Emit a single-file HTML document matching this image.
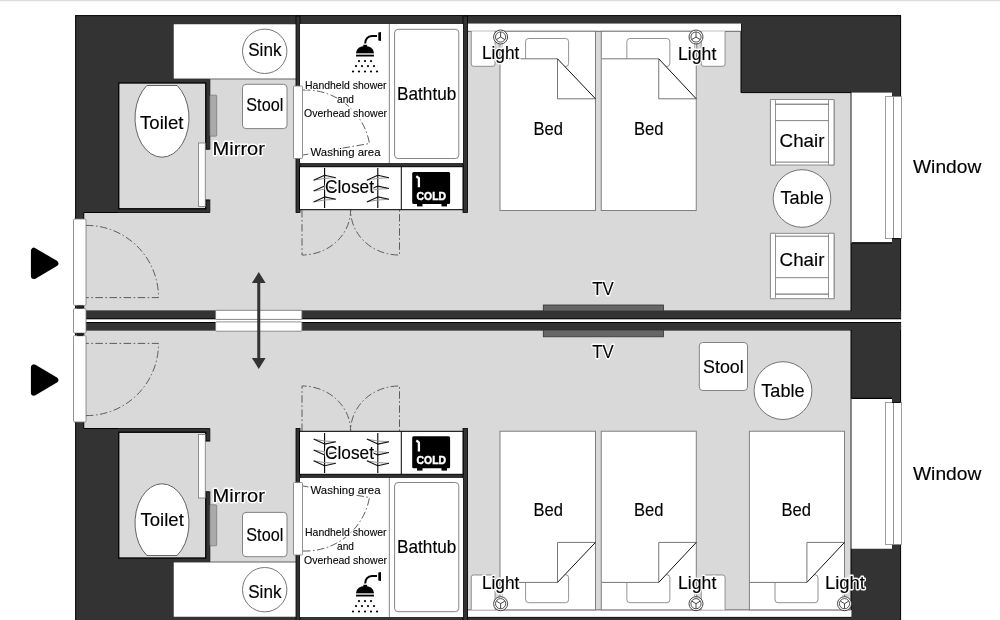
<!DOCTYPE html><html><head><meta charset="utf-8"><style>html,body{margin:0;padding:0;background:#fff;width:1000px;height:620px;overflow:hidden}svg{display:block;will-change:transform}</style></head><body>
<svg width="1000" height="620" viewBox="0 0 1000 620" font-family='"Liberation Sans", sans-serif'>
<rect x="0" y="0" width="1000" height="620" fill="#fff"/>
<rect x="0" y="0" width="1000" height="1.2" fill="#dcdcdc"/>
<rect x="75.6" y="15.6" width="825" height="303.9" fill="#333333" stroke="#000" stroke-width="1"/>
<rect x="75.6" y="322" width="825" height="310" fill="#333333" stroke="#000" stroke-width="1"/>
<path d="M83.75,212.5 H209.75 V78.75 H296 V24 H741 V92.6 H851 V311 H83.75 Z" fill="#d9d9d9" stroke="#000" stroke-width="1"/>
<rect x="851.5" y="92.6" width="40.5" height="150" fill="#fff"/>
<line x1="851" y1="93.2" x2="851" y2="242.3" stroke="#8a8a8a" stroke-width="1.2"/>
<line x1="852" y1="242.8" x2="892" y2="242.8" stroke="#000" stroke-width="1.2"/>
<rect x="885.6" y="96.6" width="8" height="142" fill="#fff" stroke="#888" stroke-width="0.8"/>
<rect x="893.6" y="96.6" width="8" height="142" fill="#fff" stroke="#888" stroke-width="0.8"/>
<line x1="892" y1="238.6" x2="900.6" y2="238.6" stroke="#000" stroke-width="1"/>
<rect x="467.5" y="23.5" width="273.5" height="7.8" fill="#fff"/>
<line x1="467.5" y1="31.3" x2="741" y2="31.3" stroke="#666" stroke-width="1"/>
<path d="M471.25,31.3 V64 Q471.25,66.3 473.55,66.3 H492.75 Q495.05,66.3 495.05,64 V31.3" fill="#fff" stroke="#777" stroke-width="0.8"/>
<path d="M701.25,31.3 V64 Q701.25,66.3 703.55,66.3 H722.75 Q725.05,66.3 725.05,64 V31.3" fill="#fff" stroke="#777" stroke-width="0.8"/>
<rect x="500" y="31.3" width="95.5" height="179.2" fill="#fff"/>
<rect x="525.6" y="38.5" width="43" height="28" rx="3" fill="#fff" stroke="#777" stroke-width="0.8"/>
<path d="M500,58.8 H557.5 L595.5,98.8 V210.5 H500 Z" fill="#fff"/>
<rect x="500" y="31.3" width="95.5" height="179.2" fill="none" stroke="#808080" stroke-width="1"/>
<path d="M500.5,58.8 H557.5 V98.8 H595.5" fill="none" stroke="#777" stroke-width="1"/>
<path d="M557.5,58.8 L595.5,98.8" fill="none" stroke="#111" stroke-width="1"/>
<rect x="601.25" y="31.3" width="95.0" height="179.2" fill="#fff"/>
<rect x="626.85" y="38.5" width="43" height="28" rx="3" fill="#fff" stroke="#777" stroke-width="0.8"/>
<path d="M601.25,58.8 H658.75 L696.25,98.8 V210.5 H601.25 Z" fill="#fff"/>
<rect x="601.25" y="31.3" width="95.0" height="179.2" fill="none" stroke="#808080" stroke-width="1"/>
<path d="M601.75,58.8 H658.75 V98.8 H696.25" fill="none" stroke="#777" stroke-width="1"/>
<path d="M658.75,58.8 L696.25,98.8" fill="none" stroke="#111" stroke-width="1"/>
<line x1="499.1" y1="44" x2="499.1" y2="48.5" stroke="#bbb" stroke-width="1" transform="scale(1,1)"/>
<line x1="502.1" y1="44" x2="502.1" y2="48.5" stroke="#bbb" stroke-width="1"/>
<circle cx="500.6" cy="37" r="7" fill="#fff" stroke="#333" stroke-width="0.9"/>
<circle cx="500.6" cy="37" r="5.1" fill="#fff" stroke="#333" stroke-width="0.85"/>
<path d="M500.6,32 V37 L496.40000000000003,39.6 M500.6,37 L504.8,39.6" fill="none" stroke="#333" stroke-width="0.9"/>
<line x1="694.5" y1="44" x2="694.5" y2="48.5" stroke="#bbb" stroke-width="1" transform="scale(1,1)"/>
<line x1="697.5" y1="44" x2="697.5" y2="48.5" stroke="#bbb" stroke-width="1"/>
<circle cx="696" cy="37" r="7" fill="#fff" stroke="#333" stroke-width="0.9"/>
<circle cx="696" cy="37" r="5.1" fill="#fff" stroke="#333" stroke-width="0.85"/>
<path d="M696,32 V37 L691.8,39.6 M696,37 L700.2,39.6" fill="none" stroke="#333" stroke-width="0.9"/>
<g transform="translate(770.4,99.6)">
<rect x="0" y="0" width="63.6" height="65.4" fill="#fff" stroke="#777" stroke-width="0.8"/>
<rect x="0" y="0" width="5.1" height="65.4" rx="1" fill="#fff" stroke="#777" stroke-width="0.8"/>
<rect x="58.1" y="0" width="5.5" height="65.4" rx="1" fill="#fff" stroke="#777" stroke-width="0.8"/>
<line x1="5.1" y1="4.6" x2="58.1" y2="4.6" stroke="#333" stroke-width="0.8"/>
<line x1="5.1" y1="21" x2="58.1" y2="21" stroke="#777" stroke-width="0.9"/>
<line x1="5.1" y1="62.5" x2="58.1" y2="62.5" stroke="#555" stroke-width="0.8"/>
</g>
<g transform="translate(770.4,233.3) translate(0,65.4) scale(1,-1)">
<rect x="0" y="0" width="63.6" height="65.4" fill="#fff" stroke="#777" stroke-width="0.8"/>
<rect x="0" y="0" width="5.1" height="65.4" rx="1" fill="#fff" stroke="#777" stroke-width="0.8"/>
<rect x="58.1" y="0" width="5.5" height="65.4" rx="1" fill="#fff" stroke="#777" stroke-width="0.8"/>
<line x1="5.1" y1="4.6" x2="58.1" y2="4.6" stroke="#333" stroke-width="0.8"/>
<line x1="5.1" y1="21" x2="58.1" y2="21" stroke="#777" stroke-width="0.9"/>
<line x1="5.1" y1="62.5" x2="58.1" y2="62.5" stroke="#555" stroke-width="0.8"/>
</g>
<circle cx="802" cy="198.5" r="28.8" fill="#fff" stroke="#666" stroke-width="0.9"/>
<path d="M83.75,428.5 H209.75 V562.25 H296 V617 H851 V330 H83.75 Z" fill="#d9d9d9" stroke="#000" stroke-width="1"/>
<rect x="851.5" y="398.75" width="40.5" height="150" fill="#fff"/>
<line x1="851" y1="399" x2="851" y2="548.4" stroke="#8a8a8a" stroke-width="1.2"/>
<line x1="852" y1="398.4" x2="892" y2="398.4" stroke="#000" stroke-width="1.2"/>
<rect x="885.6" y="402.5" width="8" height="142" fill="#fff" stroke="#888" stroke-width="0.8"/>
<rect x="893.6" y="402.5" width="8" height="142" fill="#fff" stroke="#888" stroke-width="0.8"/>
<line x1="892" y1="402.4" x2="900.6" y2="402.4" stroke="#000" stroke-width="1"/>
<rect x="467.5" y="610" width="384" height="6.8" fill="#fff"/>
<line x1="467.5" y1="609.9" x2="851" y2="609.9" stroke="#666" stroke-width="1"/>
<path d="M471.25,609.7 V577.3 Q471.25,575 473.55,575 H492.75 Q495.05,575 495.05,577.3 V609.7" fill="#fff" stroke="#777" stroke-width="0.8"/>
<path d="M701.25,609.7 V577.3 Q701.25,575 703.55,575 H722.75 Q725.05,575 725.05,577.3 V609.7" fill="#fff" stroke="#777" stroke-width="0.8"/>
<rect x="500" y="431.25" width="95.5" height="178.64999999999998" fill="#fff"/>
<rect x="525.6" y="574.6999999999999" width="43" height="28" rx="3" fill="#fff" stroke="#777" stroke-width="0.8"/>
<path d="M500,582.4 H557.5 L595.5,542.4 V431.25 H500 Z" fill="#fff"/>
<rect x="500" y="431.25" width="95.5" height="178.64999999999998" fill="none" stroke="#808080" stroke-width="1"/>
<path d="M500.5,582.4 H557.5 V542.4 H595.5" fill="none" stroke="#777" stroke-width="1"/>
<path d="M557.5,582.4 L595.5,542.4" fill="none" stroke="#111" stroke-width="1"/>
<rect x="601.25" y="431.25" width="95.04999999999995" height="178.64999999999998" fill="#fff"/>
<rect x="626.85" y="574.6999999999999" width="43" height="28" rx="3" fill="#fff" stroke="#777" stroke-width="0.8"/>
<path d="M601.25,582.4 H658.75 L696.3,542.4 V431.25 H601.25 Z" fill="#fff"/>
<rect x="601.25" y="431.25" width="95.04999999999995" height="178.64999999999998" fill="none" stroke="#808080" stroke-width="1"/>
<path d="M601.75,582.4 H658.75 V542.4 H696.3" fill="none" stroke="#777" stroke-width="1"/>
<path d="M658.75,582.4 L696.3,542.4" fill="none" stroke="#111" stroke-width="1"/>
<rect x="749.4" y="431.25" width="95.10000000000002" height="178.64999999999998" fill="#fff"/>
<rect x="775.0" y="574.6999999999999" width="43" height="28" rx="3" fill="#fff" stroke="#777" stroke-width="0.8"/>
<path d="M749.4,582.4 H806.9 L844.5,542.4 V431.25 H749.4 Z" fill="#fff"/>
<rect x="749.4" y="431.25" width="95.10000000000002" height="178.64999999999998" fill="none" stroke="#808080" stroke-width="1"/>
<path d="M749.9,582.4 H806.9 V542.4 H844.5" fill="none" stroke="#777" stroke-width="1"/>
<path d="M806.9,582.4 L844.5,542.4" fill="none" stroke="#111" stroke-width="1"/>
<line x1="499.1" y1="596.7" x2="499.1" y2="592.2" stroke="#bbb" stroke-width="1"/>
<line x1="502.1" y1="596.7" x2="502.1" y2="592.2" stroke="#bbb" stroke-width="1"/>
<circle cx="500.6" cy="603.7" r="7" fill="#fff" stroke="#333" stroke-width="0.9"/>
<circle cx="500.6" cy="603.7" r="5.1" fill="#fff" stroke="#333" stroke-width="0.85"/>
<path d="M500.6,608.7 V603.7 L496.40000000000003,601.1 M500.6,603.7 L504.8,601.1" fill="none" stroke="#333" stroke-width="0.9"/>
<line x1="694.5" y1="596.7" x2="694.5" y2="592.2" stroke="#bbb" stroke-width="1"/>
<line x1="697.5" y1="596.7" x2="697.5" y2="592.2" stroke="#bbb" stroke-width="1"/>
<circle cx="696" cy="603.7" r="7" fill="#fff" stroke="#333" stroke-width="0.9"/>
<circle cx="696" cy="603.7" r="5.1" fill="#fff" stroke="#333" stroke-width="0.85"/>
<path d="M696,608.7 V603.7 L691.8,601.1 M696,603.7 L700.2,601.1" fill="none" stroke="#333" stroke-width="0.9"/>
<line x1="843.0" y1="596.7" x2="843.0" y2="592.2" stroke="#bbb" stroke-width="1"/>
<line x1="846.0" y1="596.7" x2="846.0" y2="592.2" stroke="#bbb" stroke-width="1"/>
<circle cx="844.5" cy="603.7" r="7" fill="#fff" stroke="#333" stroke-width="0.9"/>
<circle cx="844.5" cy="603.7" r="5.1" fill="#fff" stroke="#333" stroke-width="0.85"/>
<path d="M844.5,608.7 V603.7 L840.3,601.1 M844.5,603.7 L848.7,601.1" fill="none" stroke="#333" stroke-width="0.9"/>
<rect x="699.3" y="342.5" width="48.2" height="48" rx="3.5" fill="#fff" stroke="#777" stroke-width="0.9"/>
<circle cx="783" cy="390.6" r="28.9" fill="#fff" stroke="#666" stroke-width="0.9"/>
<g id="lt"><rect x="173.75" y="24.25" width="122.25" height="54.5" fill="#fff"/>
<line x1="209.75" y1="78.9" x2="296" y2="78.9" stroke="#999" stroke-width="0.8"/>
<circle cx="264.7" cy="51.3" r="22.2" fill="#fff" stroke="#777" stroke-width="1"/>
<rect x="118" y="78.75" width="91.75" height="133.75" fill="#333333"/>
<rect x="118.75" y="83" width="87" height="125.75" fill="#d9d9d9" stroke="#000" stroke-width="1.3"/>
<rect x="205" y="149.5" width="6.2" height="50" fill="#d9d9d9"/>
<path d="M205.2,149.2 H209.75 M205.2,200.2 H209.75" stroke="#000" stroke-width="0.8"/>
<path d="M146.90,85.5 A27,39.2 0 1 0 177.10,85.5 Z" fill="#fff" stroke="#555" stroke-width="0.9"/>
<rect x="198.5" y="143" width="6.75" height="63.5" fill="#fff" stroke="#777" stroke-width="0.8"/>
<rect x="209.9" y="95.2" width="6.8" height="41" rx="0.8" fill="#aaaaaa" stroke="#666" stroke-width="0.6"/>
<rect x="242.5" y="84.3" width="44.5" height="44.3" rx="3.5" fill="#fff" stroke="#777" stroke-width="0.9"/>
<rect x="296" y="16" width="171.5" height="194" fill="#333333"/>
<rect x="296" y="16" width="4" height="196.5" fill="#333333" stroke="#000" stroke-width="0.8"/>
<rect x="463" y="16" width="4.5" height="196.5" fill="#333333" stroke="#000" stroke-width="0.8"/>
<rect x="300" y="24" width="163" height="139" fill="#fff"/>
<line x1="389.4" y1="24" x2="389.4" y2="163" stroke="#999" stroke-width="1.2"/>
<rect x="394.6" y="29.3" width="64.2" height="129.2" rx="3.5" fill="#fff" stroke="#777" stroke-width="0.9"/>
<rect x="299.5" y="166.7" width="163.5" height="43" fill="#fff" stroke="#000" stroke-width="1"/>
<line x1="401.3" y1="167" x2="401.3" y2="209.5" stroke="#000" stroke-width="1"/>
<rect x="293.5" y="86" width="9" height="72.5" rx="0.8" fill="#fff" stroke="#777" stroke-width="0.8"/>
<path d="M303,90 A65,65 0 0 1 369.5,143.5 L303,155" fill="none" stroke="#555" stroke-width="0.95" stroke-dasharray="7.5,2.5,1.6,2.5"/>
<line x1="324.6" y1="168" x2="324.6" y2="208" stroke="#000" stroke-width="1.1"/>
<path d="M314.1,180.10000000000002 Q324.6,177.9 335.8,177.70000000000002" fill="none" stroke="#999" stroke-width="1"/>
<path d="M313.6,180.3 L324.6,175.3 L335.8,177.70000000000002" fill="none" stroke="#111" stroke-width="1.1" stroke-linejoin="round"/>
<path d="M314.1,190.90000000000003 Q324.6,188.70000000000002 335.8,188.50000000000003" fill="none" stroke="#999" stroke-width="1"/>
<path d="M313.6,191.10000000000002 L324.6,186.10000000000002 L335.8,188.50000000000003" fill="none" stroke="#111" stroke-width="1.1" stroke-linejoin="round"/>
<path d="M314.1,201.70000000000002 Q324.6,199.5 335.8,199.3" fill="none" stroke="#999" stroke-width="1"/>
<path d="M313.6,201.9 L324.6,196.9 L335.8,199.3" fill="none" stroke="#111" stroke-width="1.1" stroke-linejoin="round"/>
<line x1="377.8" y1="168" x2="377.8" y2="208" stroke="#000" stroke-width="1.1"/>
<path d="M367.3,180.10000000000002 Q377.8,177.9 389.0,177.70000000000002" fill="none" stroke="#999" stroke-width="1"/>
<path d="M366.8,180.3 L377.8,175.3 L389.0,177.70000000000002" fill="none" stroke="#111" stroke-width="1.1" stroke-linejoin="round"/>
<path d="M367.3,190.90000000000003 Q377.8,188.70000000000002 389.0,188.50000000000003" fill="none" stroke="#999" stroke-width="1"/>
<path d="M366.8,191.10000000000002 L377.8,186.10000000000002 L389.0,188.50000000000003" fill="none" stroke="#111" stroke-width="1.1" stroke-linejoin="round"/>
<path d="M367.3,201.70000000000002 Q377.8,199.5 389.0,199.3" fill="none" stroke="#999" stroke-width="1"/>
<path d="M366.8,201.9 L377.8,196.9 L389.0,199.3" fill="none" stroke="#111" stroke-width="1.1" stroke-linejoin="round"/>
<path d="M302,210 V255 A48.6,45 0 0 0 350.6,210 A48.4,45 0 0 0 399.5,255 V210" fill="none" stroke="#555" stroke-width="0.95" stroke-dasharray="7.5,2.5,1.6,2.5"/>
<rect x="73.5" y="219" width="12.5" height="86.4" rx="1.2" fill="#fff" stroke="#777" stroke-width="0.8"/>
<path d="M86,225.4 A72,72 0 0 1 158.5,297.6 H86" fill="none" stroke="#555" stroke-width="0.95" stroke-dasharray="7.5,2.5,1.6,2.5"/></g>
<use href="#lt" transform="matrix(1,0,0,-1,0,641)"/>
<rect x="85" y="311" width="816" height="8.2" fill="#333333"/>
<line x1="85" y1="318.8" x2="901" y2="318.8" stroke="#000" stroke-width="1"/>
<rect x="85" y="322.2" width="816" height="7.8" fill="#333333"/>
<line x1="85" y1="322.5" x2="901" y2="322.5" stroke="#000" stroke-width="1"/>
<rect x="85" y="319.3" width="916" height="2.7" fill="#fff"/>
<rect x="73.5" y="308.5" width="12.5" height="24.6" rx="1.2" fill="#fff" stroke="#777" stroke-width="0.8"/>
<rect x="77" y="305.5" width="6" height="3" fill="#222"/>
<rect x="77" y="333.1" width="6" height="3" fill="#222"/>
<rect x="215.6" y="310.3" width="86.3" height="9.1" rx="0.8" fill="#fff" stroke="#777" stroke-width="0.8"/>
<rect x="215.6" y="321.9" width="86.3" height="9.3" rx="0.8" fill="#fff" stroke="#777" stroke-width="0.8"/>
<rect x="543.3" y="305" width="120.2" height="6" fill="#666" stroke="#333" stroke-width="0.8"/>
<rect x="543.3" y="330" width="120.2" height="6.8" fill="#666" stroke="#333" stroke-width="0.8"/>
<line x1="258.75" y1="282" x2="258.75" y2="359" stroke="#333333" stroke-width="3"/>
<path d="M258.75,271.9 L265.6,283.1 H251.9 Z" fill="#333333"/>
<path d="M258.75,369.1 L265.6,357.9 H251.9 Z" fill="#333333"/>
<path d="M33.90,250.75 L33.90,276.05 L55.39,263.40 Z" fill="#000" stroke="#000" stroke-width="6.0" stroke-linejoin="round"/>
<path d="M33.90,367.35 L33.90,392.65 L55.39,380.00 Z" fill="#000" stroke="#000" stroke-width="6.0" stroke-linejoin="round"/>
<g transform="translate(0,0)">
<path d="M378.3,32.5 L381,32 V41 L378.3,40.5 Z" fill="#000"/>
<path d="M377,36 H372 Q365.5,36.5 365.2,43.5" fill="none" stroke="#000" stroke-width="2"/>
<rect x="363.3" y="44.8" width="3.8" height="2.6" fill="#000"/>
<path d="M356,53 Q357,46 365,46 Q373,46 374,53 Z" fill="#000"/>
<rect x="356" y="53" width="18" height="2" fill="#aaa"/>
<rect x="356" y="55" width="18" height="1.5" rx="0.5" fill="#000"/>
<circle cx="359" cy="61.1" r="1.1" fill="#000"/>
<circle cx="365" cy="61.1" r="1.1" fill="#000"/>
<circle cx="371" cy="61.1" r="1.1" fill="#000"/>
<circle cx="356" cy="66.1" r="1.1" fill="#000"/>
<circle cx="362" cy="66.1" r="1.1" fill="#000"/>
<circle cx="368" cy="66.1" r="1.1" fill="#000"/>
<circle cx="374" cy="66.1" r="1.1" fill="#000"/>
<circle cx="353" cy="71.5" r="1.1" fill="#000"/>
<circle cx="359" cy="71.5" r="1.1" fill="#000"/>
<circle cx="365" cy="71.5" r="1.1" fill="#000"/>
<circle cx="371" cy="71.5" r="1.1" fill="#000"/>
<circle cx="377" cy="71.5" r="1.1" fill="#000"/>
</g>
<g transform="translate(0,540)">
<path d="M378.3,32.5 L381,32 V41 L378.3,40.5 Z" fill="#000"/>
<path d="M377,36 H372 Q365.5,36.5 365.2,43.5" fill="none" stroke="#000" stroke-width="2"/>
<rect x="363.3" y="44.8" width="3.8" height="2.6" fill="#000"/>
<path d="M356,53 Q357,46 365,46 Q373,46 374,53 Z" fill="#000"/>
<rect x="356" y="53" width="18" height="2" fill="#aaa"/>
<rect x="356" y="55" width="18" height="1.5" rx="0.5" fill="#000"/>
<circle cx="359" cy="61.1" r="1.1" fill="#000"/>
<circle cx="365" cy="61.1" r="1.1" fill="#000"/>
<circle cx="371" cy="61.1" r="1.1" fill="#000"/>
<circle cx="356" cy="66.1" r="1.1" fill="#000"/>
<circle cx="362" cy="66.1" r="1.1" fill="#000"/>
<circle cx="368" cy="66.1" r="1.1" fill="#000"/>
<circle cx="374" cy="66.1" r="1.1" fill="#000"/>
<circle cx="353" cy="71.5" r="1.1" fill="#000"/>
<circle cx="359" cy="71.5" r="1.1" fill="#000"/>
<circle cx="365" cy="71.5" r="1.1" fill="#000"/>
<circle cx="371" cy="71.5" r="1.1" fill="#000"/>
<circle cx="377" cy="71.5" r="1.1" fill="#000"/>
</g>
<g transform="translate(0,0)">
<rect x="412.2" y="172.1" width="37.9" height="31.9" rx="1.5" fill="#000"/>
<rect x="417" y="203" width="5.5" height="3.4" fill="#000"/><rect x="441.5" y="203" width="5.5" height="3.4" fill="#000"/>
<path d="M416.3,176.3 L418.9,178.2 V187.2" fill="none" stroke="#fff" stroke-width="2.3" stroke-linejoin="round"/>
<text x="431.3" y="200" font-size="10.8" font-weight="bold" fill="#fff" stroke="#fff" stroke-width="0.45" text-anchor="middle" textLength="29.4" lengthAdjust="spacingAndGlyphs">COLD</text>
</g>
<g transform="translate(0,264.2)">
<rect x="412.2" y="172.1" width="37.9" height="31.9" rx="1.5" fill="#000"/>
<rect x="417" y="203" width="5.5" height="3.4" fill="#000"/><rect x="441.5" y="203" width="5.5" height="3.4" fill="#000"/>
<path d="M416.3,176.3 L418.9,178.2 V187.2" fill="none" stroke="#fff" stroke-width="2.3" stroke-linejoin="round"/>
<text x="431.3" y="200" font-size="10.8" font-weight="bold" fill="#fff" stroke="#fff" stroke-width="0.45" text-anchor="middle" textLength="29.4" lengthAdjust="spacingAndGlyphs">COLD</text>
</g>
<text x="264.85" y="56.20" font-size="19" text-anchor="middle" textLength="33.30" lengthAdjust="spacingAndGlyphs" fill="#000" stroke="#000" stroke-width="0.15">Sink</text>
<text x="264.80" y="111.30" font-size="19" text-anchor="middle" textLength="37.00" lengthAdjust="spacingAndGlyphs" fill="#000" stroke="#000" stroke-width="0.15">Stool</text>
<text x="161.75" y="129.40" font-size="19" text-anchor="middle" textLength="43.50" lengthAdjust="spacingAndGlyphs" fill="#000" stroke="#000" stroke-width="0.15">Toilet</text>
<text x="238.75" y="154.50" font-size="19" text-anchor="middle" textLength="52.50" lengthAdjust="spacingAndGlyphs" fill="#fff" stroke="#fff" stroke-width="2.8" stroke-linejoin="round">Mirror</text>
<text x="238.75" y="154.50" font-size="19" text-anchor="middle" textLength="52.50" lengthAdjust="spacingAndGlyphs" fill="#000" stroke="#000" stroke-width="0.15">Mirror</text>
<text x="426.65" y="100.00" font-size="19" text-anchor="middle" textLength="59.30" lengthAdjust="spacingAndGlyphs" fill="#000" stroke="#000" stroke-width="0.15">Bathtub</text>
<text x="345.75" y="88.80" font-size="11.3" text-anchor="middle" textLength="81.50" lengthAdjust="spacingAndGlyphs" fill="#fff" stroke="#fff" stroke-width="2.0" stroke-linejoin="round">Handheld shower</text>
<text x="345.75" y="88.80" font-size="11.3" text-anchor="middle" textLength="81.50" lengthAdjust="spacingAndGlyphs" fill="#000" stroke="#000" stroke-width="0.1">Handheld shower</text>
<text x="345.50" y="102.50" font-size="11.3" text-anchor="middle" textLength="17.00" lengthAdjust="spacingAndGlyphs" fill="#fff" stroke="#fff" stroke-width="2.0" stroke-linejoin="round">and</text>
<text x="345.50" y="102.50" font-size="11.3" text-anchor="middle" textLength="17.00" lengthAdjust="spacingAndGlyphs" fill="#000" stroke="#000" stroke-width="0.1">and</text>
<text x="345.50" y="116.50" font-size="11.3" text-anchor="middle" textLength="83.00" lengthAdjust="spacingAndGlyphs" fill="#fff" stroke="#fff" stroke-width="2.0" stroke-linejoin="round">Overhead shower</text>
<text x="345.50" y="116.50" font-size="11.3" text-anchor="middle" textLength="83.00" lengthAdjust="spacingAndGlyphs" fill="#000" stroke="#000" stroke-width="0.1">Overhead shower</text>
<text x="345.50" y="155.50" font-size="11.3" text-anchor="middle" textLength="70.00" lengthAdjust="spacingAndGlyphs" fill="#fff" stroke="#fff" stroke-width="2.0" stroke-linejoin="round">Washing area</text>
<text x="345.50" y="155.50" font-size="11.3" text-anchor="middle" textLength="70.00" lengthAdjust="spacingAndGlyphs" fill="#000" stroke="#000" stroke-width="0.1">Washing area</text>
<text x="349.50" y="193.00" font-size="19" text-anchor="middle" textLength="49.00" lengthAdjust="spacingAndGlyphs" fill="#fff" stroke="#fff" stroke-width="2.8" stroke-linejoin="round">Closet</text>
<text x="349.50" y="193.00" font-size="19" text-anchor="middle" textLength="49.00" lengthAdjust="spacingAndGlyphs" fill="#000" stroke="#000" stroke-width="0.15">Closet</text>
<text x="500.65" y="59.40" font-size="19" text-anchor="middle" textLength="37.50" lengthAdjust="spacingAndGlyphs" fill="#fff" stroke="#fff" stroke-width="2.8" stroke-linejoin="round">Light</text>
<text x="500.65" y="59.40" font-size="19" text-anchor="middle" textLength="37.50" lengthAdjust="spacingAndGlyphs" fill="#000" stroke="#000" stroke-width="0.15">Light</text>
<text x="697.15" y="60.00" font-size="19" text-anchor="middle" textLength="38.30" lengthAdjust="spacingAndGlyphs" fill="#fff" stroke="#fff" stroke-width="2.8" stroke-linejoin="round">Light</text>
<text x="697.15" y="60.00" font-size="19" text-anchor="middle" textLength="38.30" lengthAdjust="spacingAndGlyphs" fill="#000" stroke="#000" stroke-width="0.15">Light</text>
<text x="548.25" y="135.00" font-size="19" text-anchor="middle" textLength="29.50" lengthAdjust="spacingAndGlyphs" fill="#000" stroke="#000" stroke-width="0.15">Bed</text>
<text x="648.75" y="135.00" font-size="19" text-anchor="middle" textLength="29.50" lengthAdjust="spacingAndGlyphs" fill="#000" stroke="#000" stroke-width="0.15">Bed</text>
<text x="802.00" y="147.40" font-size="19" text-anchor="middle" textLength="44.80" lengthAdjust="spacingAndGlyphs" fill="#000" stroke="#000" stroke-width="0.15">Chair</text>
<text x="802.15" y="203.80" font-size="19" text-anchor="middle" textLength="43.30" lengthAdjust="spacingAndGlyphs" fill="#000" stroke="#000" stroke-width="0.15">Table</text>
<text x="802.00" y="265.50" font-size="19" text-anchor="middle" textLength="44.80" lengthAdjust="spacingAndGlyphs" fill="#000" stroke="#000" stroke-width="0.15">Chair</text>
<text x="947.15" y="172.50" font-size="19" text-anchor="middle" textLength="68.30" lengthAdjust="spacingAndGlyphs" fill="#000" stroke="#000" stroke-width="0.15">Window</text>
<text x="603.00" y="294.50" font-size="19" text-anchor="middle" textLength="21.40" lengthAdjust="spacingAndGlyphs" fill="#fff" stroke="#fff" stroke-width="2.8" stroke-linejoin="round">TV</text>
<text x="603.00" y="294.50" font-size="19" text-anchor="middle" textLength="21.40" lengthAdjust="spacingAndGlyphs" fill="#000" stroke="#000" stroke-width="0.15">TV</text>
<text x="603.00" y="358.30" font-size="19" text-anchor="middle" textLength="21.40" lengthAdjust="spacingAndGlyphs" fill="#fff" stroke="#fff" stroke-width="2.8" stroke-linejoin="round">TV</text>
<text x="603.00" y="358.30" font-size="19" text-anchor="middle" textLength="21.40" lengthAdjust="spacingAndGlyphs" fill="#000" stroke="#000" stroke-width="0.15">TV</text>
<text x="723.40" y="373.00" font-size="19" text-anchor="middle" textLength="40.80" lengthAdjust="spacingAndGlyphs" fill="#000" stroke="#000" stroke-width="0.15">Stool</text>
<text x="782.90" y="396.80" font-size="19" text-anchor="middle" textLength="43.20" lengthAdjust="spacingAndGlyphs" fill="#000" stroke="#000" stroke-width="0.15">Table</text>
<text x="349.50" y="459.30" font-size="19" text-anchor="middle" textLength="49.00" lengthAdjust="spacingAndGlyphs" fill="#fff" stroke="#fff" stroke-width="2.8" stroke-linejoin="round">Closet</text>
<text x="349.50" y="459.30" font-size="19" text-anchor="middle" textLength="49.00" lengthAdjust="spacingAndGlyphs" fill="#000" stroke="#000" stroke-width="0.15">Closet</text>
<text x="345.50" y="493.80" font-size="11.3" text-anchor="middle" textLength="70.00" lengthAdjust="spacingAndGlyphs" fill="#fff" stroke="#fff" stroke-width="2.0" stroke-linejoin="round">Washing area</text>
<text x="345.50" y="493.80" font-size="11.3" text-anchor="middle" textLength="70.00" lengthAdjust="spacingAndGlyphs" fill="#000" stroke="#000" stroke-width="0.1">Washing area</text>
<text x="345.75" y="536.30" font-size="11.3" text-anchor="middle" textLength="81.50" lengthAdjust="spacingAndGlyphs" fill="#fff" stroke="#fff" stroke-width="2.0" stroke-linejoin="round">Handheld shower</text>
<text x="345.75" y="536.30" font-size="11.3" text-anchor="middle" textLength="81.50" lengthAdjust="spacingAndGlyphs" fill="#000" stroke="#000" stroke-width="0.1">Handheld shower</text>
<text x="345.50" y="550.00" font-size="11.3" text-anchor="middle" textLength="17.00" lengthAdjust="spacingAndGlyphs" fill="#fff" stroke="#fff" stroke-width="2.0" stroke-linejoin="round">and</text>
<text x="345.50" y="550.00" font-size="11.3" text-anchor="middle" textLength="17.00" lengthAdjust="spacingAndGlyphs" fill="#000" stroke="#000" stroke-width="0.1">and</text>
<text x="345.50" y="563.80" font-size="11.3" text-anchor="middle" textLength="83.00" lengthAdjust="spacingAndGlyphs" fill="#fff" stroke="#fff" stroke-width="2.0" stroke-linejoin="round">Overhead shower</text>
<text x="345.50" y="563.80" font-size="11.3" text-anchor="middle" textLength="83.00" lengthAdjust="spacingAndGlyphs" fill="#000" stroke="#000" stroke-width="0.1">Overhead shower</text>
<text x="426.65" y="553.00" font-size="19" text-anchor="middle" textLength="59.30" lengthAdjust="spacingAndGlyphs" fill="#000" stroke="#000" stroke-width="0.15">Bathtub</text>
<text x="162.15" y="525.80" font-size="19" text-anchor="middle" textLength="43.30" lengthAdjust="spacingAndGlyphs" fill="#000" stroke="#000" stroke-width="0.15">Toilet</text>
<text x="238.75" y="502.00" font-size="19" text-anchor="middle" textLength="52.50" lengthAdjust="spacingAndGlyphs" fill="#fff" stroke="#fff" stroke-width="2.8" stroke-linejoin="round">Mirror</text>
<text x="238.75" y="502.00" font-size="19" text-anchor="middle" textLength="52.50" lengthAdjust="spacingAndGlyphs" fill="#000" stroke="#000" stroke-width="0.15">Mirror</text>
<text x="264.80" y="541.30" font-size="19" text-anchor="middle" textLength="37.00" lengthAdjust="spacingAndGlyphs" fill="#000" stroke="#000" stroke-width="0.15">Stool</text>
<text x="264.85" y="597.50" font-size="19" text-anchor="middle" textLength="33.30" lengthAdjust="spacingAndGlyphs" fill="#000" stroke="#000" stroke-width="0.15">Sink</text>
<text x="548.25" y="516.30" font-size="19" text-anchor="middle" textLength="29.50" lengthAdjust="spacingAndGlyphs" fill="#000" stroke="#000" stroke-width="0.15">Bed</text>
<text x="648.75" y="516.30" font-size="19" text-anchor="middle" textLength="29.50" lengthAdjust="spacingAndGlyphs" fill="#000" stroke="#000" stroke-width="0.15">Bed</text>
<text x="796.25" y="516.30" font-size="19" text-anchor="middle" textLength="29.50" lengthAdjust="spacingAndGlyphs" fill="#000" stroke="#000" stroke-width="0.15">Bed</text>
<text x="947.15" y="480.00" font-size="19" text-anchor="middle" textLength="68.30" lengthAdjust="spacingAndGlyphs" fill="#000" stroke="#000" stroke-width="0.15">Window</text>
<text x="500.65" y="588.80" font-size="19" text-anchor="middle" textLength="37.50" lengthAdjust="spacingAndGlyphs" fill="#fff" stroke="#fff" stroke-width="2.8" stroke-linejoin="round">Light</text>
<text x="500.65" y="588.80" font-size="19" text-anchor="middle" textLength="37.50" lengthAdjust="spacingAndGlyphs" fill="#000" stroke="#000" stroke-width="0.15">Light</text>
<text x="697.15" y="589.30" font-size="19" text-anchor="middle" textLength="38.30" lengthAdjust="spacingAndGlyphs" fill="#fff" stroke="#fff" stroke-width="2.8" stroke-linejoin="round">Light</text>
<text x="697.15" y="589.30" font-size="19" text-anchor="middle" textLength="38.30" lengthAdjust="spacingAndGlyphs" fill="#000" stroke="#000" stroke-width="0.15">Light</text>
<text x="845.00" y="589.30" font-size="19" text-anchor="middle" textLength="40.00" lengthAdjust="spacingAndGlyphs" fill="#fff" stroke="#fff" stroke-width="2.8" stroke-linejoin="round">Light</text>
<text x="845.00" y="589.30" font-size="19" text-anchor="middle" textLength="40.00" lengthAdjust="spacingAndGlyphs" fill="#000" stroke="#000" stroke-width="0.15">Light</text>
</svg>
</body></html>
